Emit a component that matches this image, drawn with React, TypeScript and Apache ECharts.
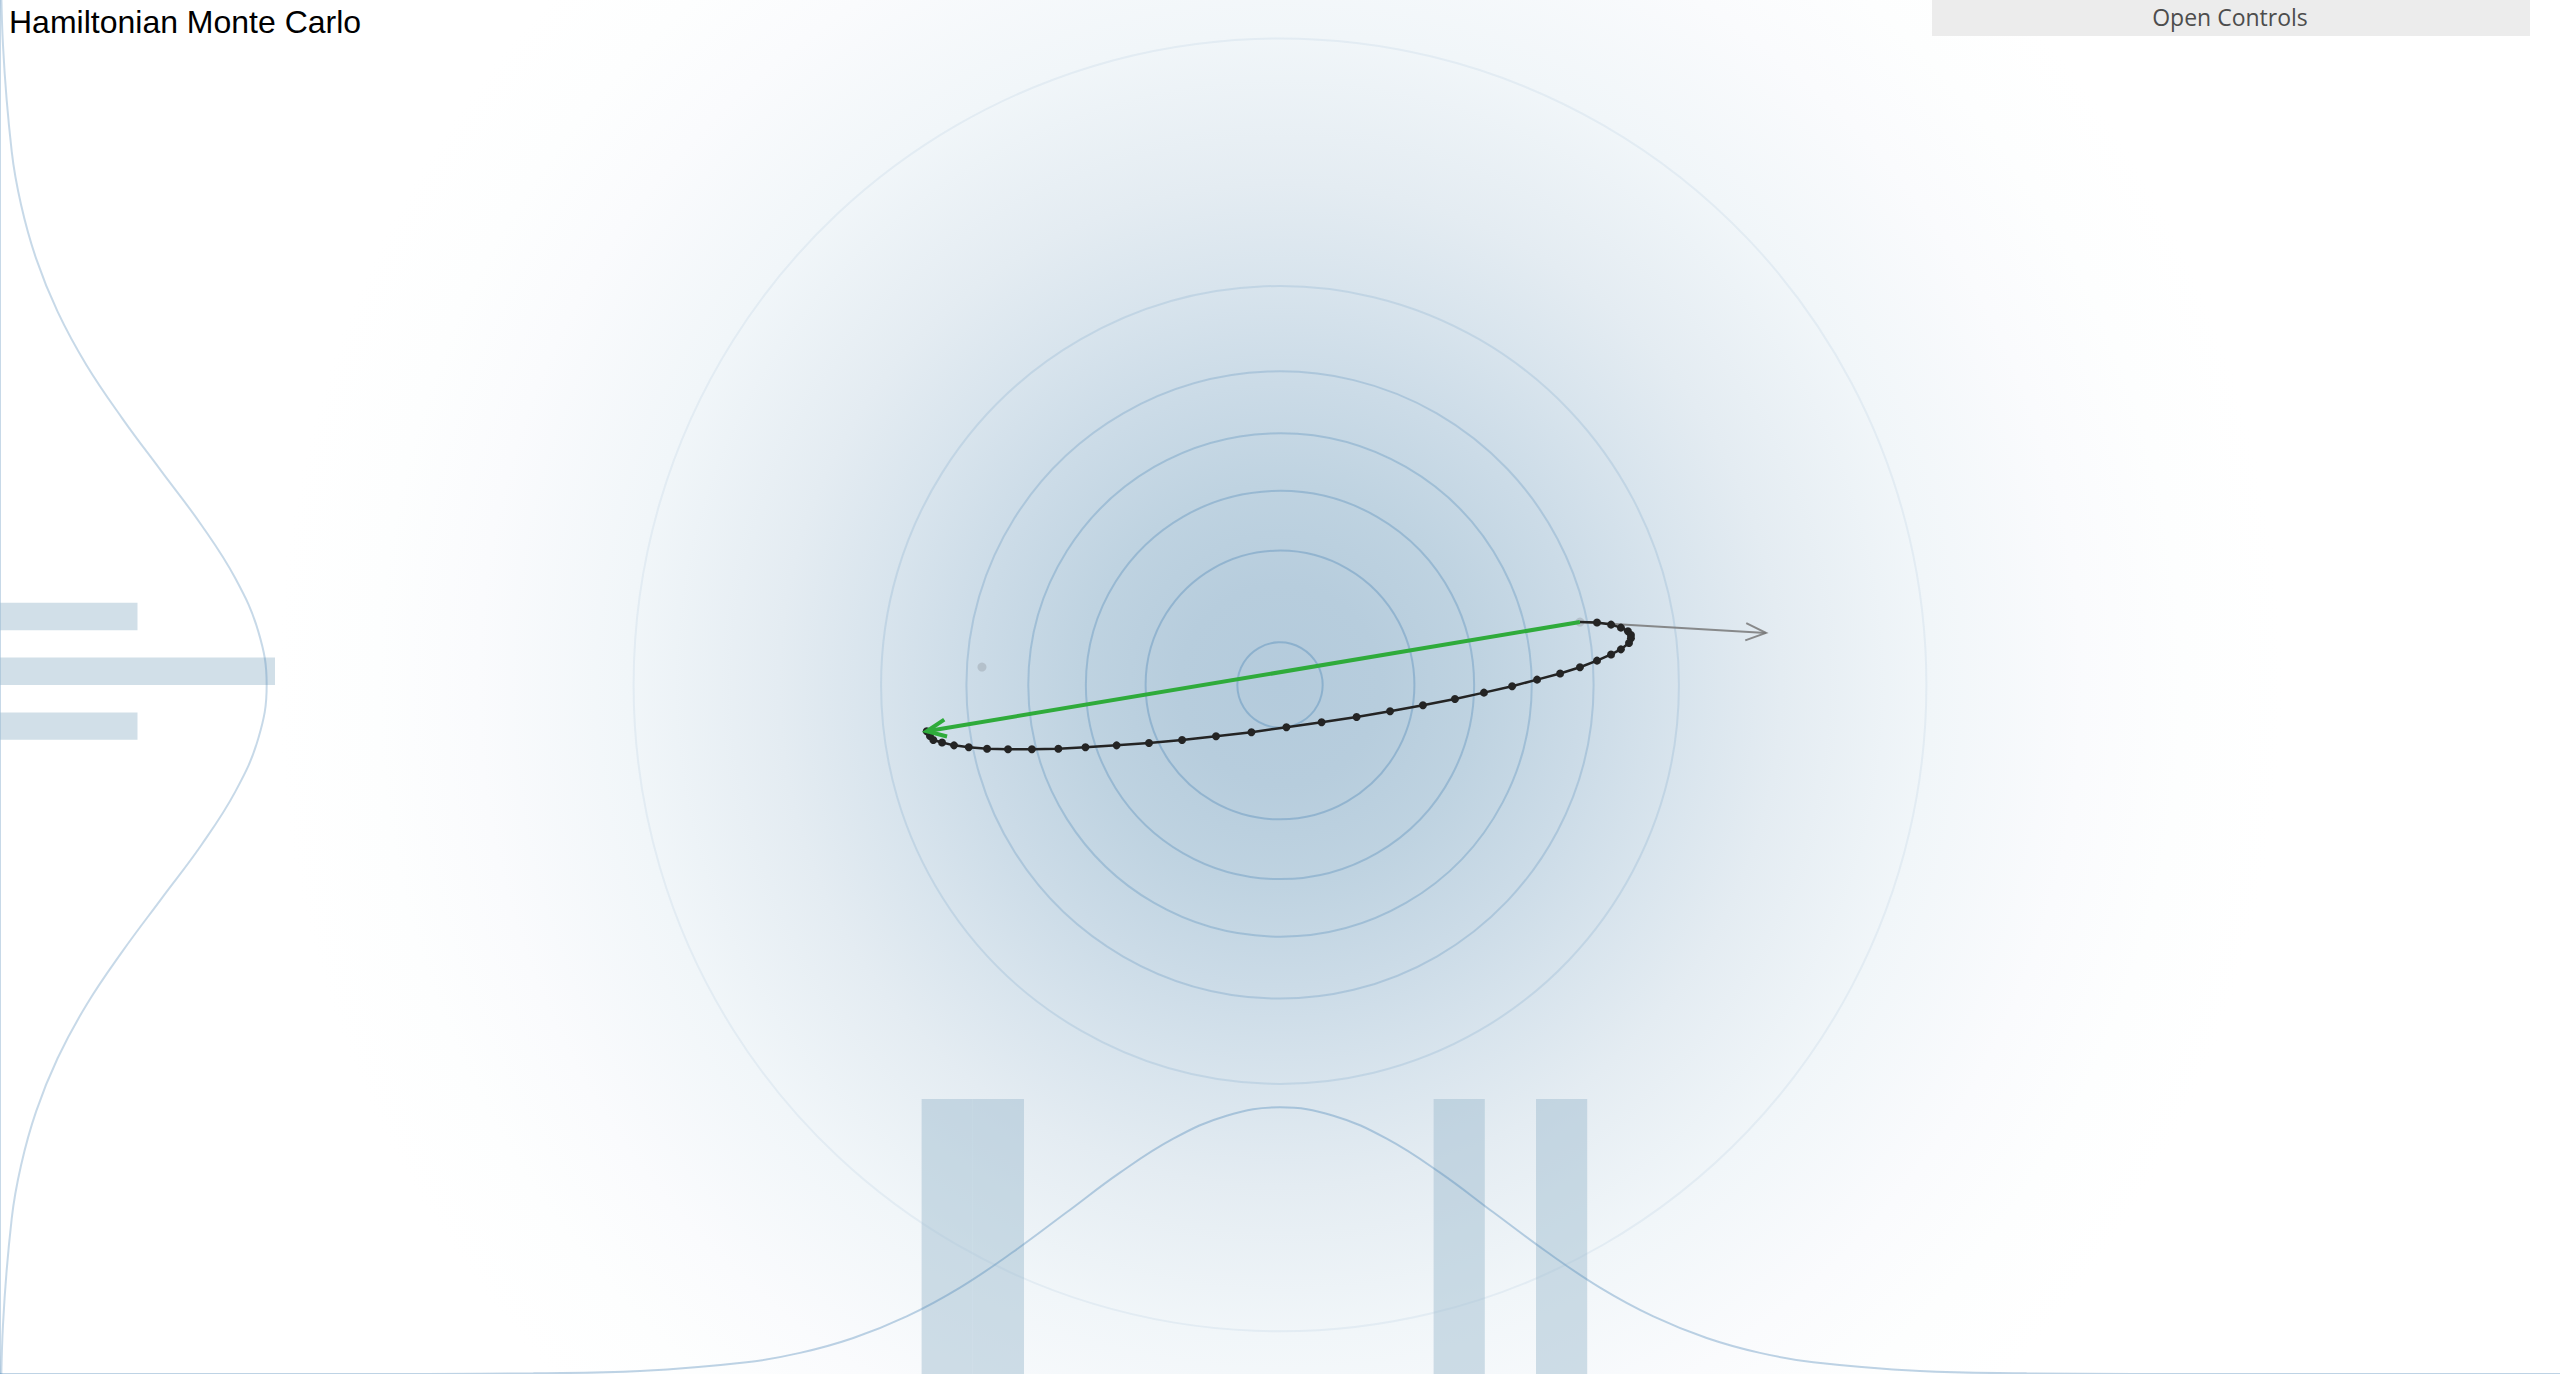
import React, { useEffect, useRef } from "react";
import * as echarts from "echarts";

// ---- axis ranges (model units, 1 unit = one standard deviation) ----
const X_MIN = -6;
const X_MAX = 6;
const Y_MIN = -3.23;
const Y_MAX = 3.211;

// ---- target density contours (radii) ----
const contourRadii = [0.2, 0.63, 0.91, 1.18, 1.47, 1.87, 3.03];
const contourAlpha = [0.36, 0.34, 0.32, 0.29, 0.24, 0.15, 0.08];

// ---- leapfrog trajectory (position after each step) ----
const trajectory: number[][] = [
  [1.406, 0.295], [1.486, 0.293], [1.552, 0.283], [1.598, 0.269], [1.631, 0.252],
  [1.645, 0.234], [1.645, 0.219], [1.636, 0.197], [1.598, 0.167], [1.552, 0.143],
  [1.486, 0.114], [1.406, 0.083], [1.313, 0.054], [1.205, 0.025], [1.088, -0.006],
  [0.956, -0.036], [0.82, -0.066], [0.67, -0.095], [0.516, -0.123], [0.359, -0.15],
  [0.195, -0.175], [0.03, -0.198], [-0.134, -0.222], [-0.3, -0.24], [-0.459, -0.258],
  [-0.614, -0.272], [-0.766, -0.283], [-0.912, -0.292], [-1.039, -0.299], [-1.163, -0.301],
  [-1.275, -0.301], [-1.373, -0.299], [-1.459, -0.292], [-1.528, -0.283], [-1.584, -0.27],
  [-1.625, -0.258], [-1.641, -0.239], [-1.656, -0.217],
];

// ---- current sample, momentum, proposal ----
const currentSample = [1.406, 0.295];
const momentumEnd = [2.278, 0.244];
const proposal = [-1.656, -0.217];
const sampleX = [1.406, -1.397];
const sampleY = [0.295, 0.084];

// ---- marginal histograms ----
const X_BIN_WIDTH = 0.24;
const xBinStarts = [-1.68, -1.44, 0.72, 1.2];
const xBinCounts = [1, 1, 1, 1];
const Y_BIN_WIDTH = 0.1284;
const yBinStarts = [0.257, 0, -0.257];
const yBinCounts = [1, 2, 1];
const HIST_MAX_LEN = 1.289;

// ---- marginal density curves (offset from centre, height) ----
const marginalT = [
  -6, -4, -3.5, -3, -2.5, -2.25, -2, -1.75, -1.5, -1.25, -1, -0.75, -0.5, -0.25, 0,
  0.25, 0.5, 0.75, 1, 1.25, 1.5, 1.75, 2, 2.25, 2.5, 3, 3.5, 4, 6,
];
const marginalH = [
  0, 0.0004, 0.003, 0.014, 0.055, 0.099, 0.169, 0.27, 0.405, 0.573, 0.758, 0.944, 1.103, 1.211, 1.25,
  1.211, 1.103, 0.944, 0.758, 0.573, 0.405, 0.27, 0.169, 0.099, 0.055, 0.014, 0.003, 0.0004, 0,
];

const BG_RADIUS = 4.7;

function arrowSeries(start: number[], end: number[], color: string, width: number, z: number, len: number, deg: number) {
  return {
    type: "custom",
    z,
    silent: true,
    encode: { x: [0, 2], y: [1, 3] },
    data: [[start[0], start[1], end[0], end[1]]],
    renderItem: (_p: any, api: any) => {
      const p0 = api.coord([api.value(0), api.value(1)]);
      const p1 = api.coord([api.value(2), api.value(3)]);
      const ang = Math.atan2(p0[1] - p1[1], p0[0] - p1[0]);
      const A = (deg * Math.PI) / 180;
      const a1 = [p1[0] + len * Math.cos(ang + A), p1[1] + len * Math.sin(ang + A)];
      const a2 = [p1[0] + len * Math.cos(ang - A), p1[1] + len * Math.sin(ang - A)];
      return {
        type: "group",
        children: [
          { type: "line", shape: { x1: p0[0], y1: p0[1], x2: p1[0], y2: p1[1] }, style: { stroke: color, lineWidth: width } },
          { type: "polyline", shape: { points: [a1, p1, a2] }, style: { stroke: color, lineWidth: width, fill: null } },
        ],
      };
    },
  };
}

export default function App() {
  const ref = useRef<HTMLDivElement>(null);
  useEffect(() => {
    if (!ref.current) return;
    const chart = echarts.init(ref.current, undefined, { renderer: "svg" });

    const xMaxCount = Math.max(...xBinCounts);
    const yMaxCount = Math.max(...yBinCounts);
    const barData = [
      ...xBinStarts.map((s, i) => [s, s + X_BIN_WIDTH, Y_MIN, Y_MIN + (HIST_MAX_LEN * xBinCounts[i]) / xMaxCount]),
      ...yBinStarts.map((s, i) => [X_MIN, X_MIN + (HIST_MAX_LEN * yBinCounts[i]) / yMaxCount, s, s + Y_BIN_WIDTH]),
    ];

    const option: any = {
      animation: false,
      backgroundColor: "#ffffff",
      grid: { left: 0, right: 0, top: 0, bottom: 0 },
      xAxis: {
        type: "value", min: X_MIN, max: X_MAX,
        axisLine: { show: false }, axisTick: { show: false }, axisLabel: { show: false }, splitLine: { show: false },
      },
      yAxis: {
        type: "value", min: Y_MIN, max: Y_MAX,
        axisLine: { show: true, onZero: false, lineStyle: { color: "rgba(70,130,180,0.3)", width: 2 } },
        axisTick: { show: false }, axisLabel: { show: false }, splitLine: { show: false },
      },
      graphic: [
        {
          type: "text", left: 9, top: 6, z: 100,
          style: { text: "Hamiltonian Monte Carlo", fontSize: 32, fontFamily: '"Liberation Sans", Arial, sans-serif', fill: "#000000" },
        },
        { type: "rect", z: 100, shape: { x: 1932, y: 0, width: 598, height: 36 }, style: { fill: "#ececec" } },
        {
          type: "text", z: 101, x: 2230, y: 17,
          style: { text: "Open Controls", fontSize: 23, fontFamily: '"Open Sans", sans-serif', fill: "#4d4d4d", align: "center", verticalAlign: "middle" },
        },
      ],
      series: [
        {
          type: "custom", z: 0, silent: true,
          encode: { x: 0, y: 1 },
          data: [[0, 0, BG_RADIUS]],
          renderItem: (_p: any, api: any) => {
            const c = api.coord([api.value(0), api.value(1)]);
            const r = api.size([api.value(2), 0])[0];
            return {
              type: "circle",
              shape: { cx: c[0], cy: c[1], r },
              style: {
                fill: new echarts.graphic.RadialGradient(0.5, 0.5, 0.5, [
                  { offset: 0, color: "rgb(180,203,220)" },
                  { offset: 0.1, color: "rgb(183,205,221)" },
                  { offset: 0.2, color: "rgb(191,211,225)" },
                  { offset: 0.3, color: "rgb(203,219,231)" },
                  { offset: 0.4, color: "rgb(216,228,237)" },
                  { offset: 0.5, color: "rgb(228,236,242)" },
                  { offset: 0.65, color: "rgb(241,246,249)" },
                  { offset: 0.8, color: "rgb(250,251,253)" },
                  { offset: 0.9, color: "rgb(253,254,254)" },
                  { offset: 1, color: "rgb(255,255,255)" },
                ]),
              },
            };
          },
        },
        {
          type: "custom", z: 1, silent: true,
          encode: { x: 0, y: 0 },
          data: contourRadii.map((r, i) => [r, contourAlpha[i]]),
          renderItem: (_p: any, api: any) => {
            const c = api.coord([0, 0]);
            const r = api.size([api.value(0), 0])[0];
            return {
              type: "circle",
              shape: { cx: c[0], cy: c[1], r },
              style: { fill: null, stroke: `rgba(70,130,180,${api.value(1)})`, lineWidth: 2 },
            };
          },
        },
        {
          type: "custom", z: 2, silent: true,
          encode: { x: [0, 1], y: [2, 3] },
          data: barData,
          renderItem: (_p: any, api: any) => {
            const tl = api.coord([api.value(0), api.value(3)]);
            const br = api.coord([api.value(1), api.value(2)]);
            return {
              type: "rect",
              shape: { x: tl[0], y: tl[1], width: br[0] - tl[0], height: br[1] - tl[1] },
              style: { fill: "rgba(157,187,206,0.47)" },
            };
          },
        },
        {
          type: "line", z: 3, silent: true, smooth: 0.4, showSymbol: false,
          data: marginalT.map((t, i) => [t, Y_MIN + marginalH[i]]),
          lineStyle: { color: "rgba(70,130,180,0.35)", width: 2 },
        },
        {
          type: "line", z: 3, silent: true, smooth: 0.4, showSymbol: false,
          data: marginalT.map((t, i) => [X_MIN + marginalH[i], t]),
          lineStyle: { color: "rgba(70,130,180,0.3)", width: 2 },
        },
        {
          type: "scatter", z: 4, silent: true, symbolSize: 9,
          data: sampleX.map((x, i) => [x, sampleY[i]]),
          itemStyle: { color: "rgba(165,175,185,0.75)" },
        },
        arrowSeries(currentSample, momentumEnd, "rgba(120,120,120,0.85)", 2, 5, 22, 23),
        {
          type: "line", z: 6, silent: true, symbol: "circle", symbolSize: 8, showSymbol: true,
          data: trajectory.map((p, i) => (i === 0 ? { value: p, symbolSize: 0 } : p)),
          itemStyle: { color: "#242424" },
          lineStyle: { color: "#242424", width: 2.5 },
        },
        arrowSeries(currentSample, proposal, "#2fab3b", 4, 7, 21, 24),
      ],
    };
    chart.setOption(option);
    return () => chart.dispose();
  }, []);

  return (
    <div
      ref={ref}
      style={{ position: "absolute", left: 0, top: 0, width: "2560px", height: "1374px" }}
    />
  );
}
